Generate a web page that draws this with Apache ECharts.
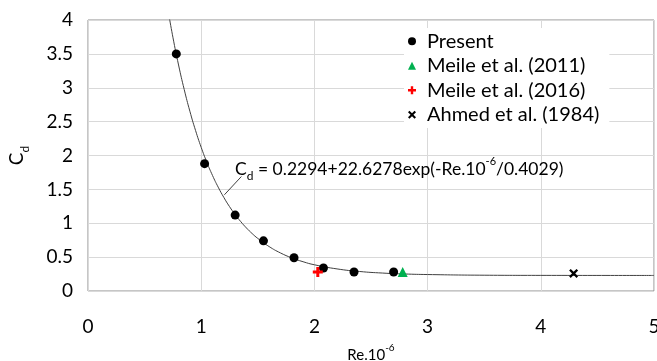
<!DOCTYPE html>
<html>
<head>
<meta charset="utf-8">
<script src="https://cdn.jsdelivr.net/npm/echarts@6/dist/echarts.min.js"></script>
<style>
  html, body { margin: 0; padding: 0; background: #fff; }
  #chart { width: 657px; height: 361px; }
</style>
</head>
<body>
<div id="chart"></div>
<script>
// Present (Re.10^-6, Cd)
const presentRe = [0.78, 1.03, 1.30, 1.55, 1.82, 2.08, 2.35, 2.70];
const presentCd = [3.50, 1.88, 1.12, 0.74, 0.49, 0.34, 0.28, 0.28];
const meile2011 = [[2.78, 0.28]];
const meile2016 = [[2.03, 0.28]];
const ahmed1984 = [[4.29, 0.26]];
// fitted curve as drawn
const fitRe = [0.70, 0.75, 0.80, 0.85, 0.90, 0.95, 1.00, 1.05, 1.10, 1.15, 1.20, 1.25, 1.30, 1.35,
  1.40, 1.45, 1.50, 1.60, 1.70, 1.80, 1.90, 2.00, 2.20, 2.40, 2.60, 2.80, 3.00, 3.50, 4.00, 5.00];
const fitCd = [4.212, 3.746, 3.336, 2.974, 2.653, 2.370, 2.120, 1.900, 1.705, 1.533, 1.381, 1.246, 1.128, 1.023,
  0.930, 0.848, 0.776, 0.656, 0.562, 0.489, 0.432, 0.387, 0.326, 0.288, 0.265, 0.251, 0.243, 0.233, 0.2305, 0.2295];
const xTicks = [0, 1, 2, 3, 4, 5];
const yTicks = [0, 0.5, 1, 1.5, 2, 2.5, 3, 3.5, 4];

const font = "Lato, 'Open Sans', sans-serif";
const plusPath = "path://M3.5,0H6.5V3.5H10V6.5H6.5V10H3.5V6.5H0V3.5H3.5Z";
const crossPath = "path://M1.8,0L5,3.2L8.2,0L10,1.8L6.8,5L10,8.2L8.2,10L5,6.8L1.8,10L0,8.2L3.2,5L0,1.8Z";

const chart = echarts.init(document.getElementById("chart"));
const option = {
  backgroundColor: "#fff",
  animation: false,
  textStyle: { fontFamily: font },
  grid: {
    left: 88, right: 3, top: 20, bottom: 70,
    containLabel: false, outerBoundsMode: "none",
    show: true, borderColor: "#8c8c8c", borderWidth: 1,
  },
  legend: {
    orient: "vertical",
    left: 404,
    top: 28,
    itemGap: 4,
    itemWidth: 8,
    itemHeight: 8,
    backgroundColor: "#fff",
    padding: [3, 10, 3, 4],
    textStyle: { fontFamily: font, fontSize: 20, lineHeight: 20.5, color: "#000", padding: [0, 0, 0, 6] },
    data: ["Present", "Meile et al. (2011)", "Meile et al. (2016)", "Ahmed et al. (1984)"],
  },
  xAxis: {
    type: "value",
    min: xTicks[0],
    max: xTicks[xTicks.length - 1],
    interval: 1,
    axisLine: { show: false },
    axisTick: { show: false },
    splitLine: { lineStyle: { color: "#d9d9d9" } },
    axisLabel: { fontSize: 19, color: "#000", margin: 26, fontFamily: font },
    name: "{a|Re.10}{p|-6}",
    nameLocation: "middle",
    nameGap: 52,
    nameTextStyle: {
      rich: {
        a: { fontSize: 15, color: "#000", fontFamily: font, lineHeight: 20, verticalAlign: "bottom" },
        p: { fontSize: 10, color: "#000", fontFamily: font, lineHeight: 20, verticalAlign: "top" },
      },
    },
  },
  yAxis: {
    type: "value",
    min: yTicks[0],
    max: yTicks[yTicks.length - 1],
    interval: 0.5,
    axisLine: { show: false },
    axisTick: { show: false },
    splitLine: { lineStyle: { color: "#d9d9d9" } },
    axisLabel: { fontSize: 19, color: "#000", margin: 15, fontFamily: font },
    name: "{a|C}{s|d}",
    nameLocation: "middle",
    nameGap: 57,
    nameTextStyle: {
      rich: {
        a: { fontSize: 19, color: "#000", fontFamily: font, lineHeight: 24, verticalAlign: "top" },
        s: { fontSize: 12, color: "#000", fontFamily: font, lineHeight: 24, verticalAlign: "bottom" },
      },
    },
  },
  series: [
    {
      name: "fit",
      type: "line",
      data: fitRe.map((x, i) => [x, fitCd[i]]),
      smooth: true,
      showSymbol: false,
      clip: true,
      silent: true,
      lineStyle: { color: "#404040", width: 1 },
      z: 2,
      markLine: {
        silent: true,
        symbol: ["none", "arrow"],
        symbolSize: [0, 11],
        lineStyle: { color: "#404040", width: 1, type: "solid" },
        label: { show: false },
        data: [[{ coord: [1.355, 1.69] }, { coord: [1.205, 1.42] }]],
      },
      markPoint: {
        silent: true,
        symbol: "circle",
        symbolSize: 1,
        itemStyle: { color: "rgba(0,0,0,0)" },
        data: [{ coord: [1.295, 1.80] }],
        label: {
          show: true,
          position: "right",
          distance: 0,
          formatter: "{a|C}{s|d}{a| = 0.2294+22.6278exp(-Re.10}{p|-6}{a|/0.4029)}",
          rich: {
            a: { fontSize: 17.5, color: "#000", fontFamily: font, lineHeight: 26 },
            s: { fontSize: 12, color: "#000", fontFamily: font, lineHeight: 26, verticalAlign: "bottom" },
            p: { fontSize: 11, color: "#000", fontFamily: font, lineHeight: 26, verticalAlign: "top" },
          },
        },
      },
    },
    {
      name: "Present",
      type: "scatter",
      data: presentRe.map((x, i) => [x, presentCd[i]]),
      symbol: "circle",
      symbolSize: 9,
      itemStyle: { color: "#000", opacity: 1 },
      z: 3,
    },
    {
      name: "Meile et al. (2011)",
      type: "scatter",
      data: meile2011,
      symbol: "triangle",
      symbolSize: 10,
      itemStyle: { color: "#00b050", opacity: 1 },
      z: 3,
    },
    {
      name: "Meile et al. (2016)",
      type: "scatter",
      data: meile2016,
      symbol: plusPath,
      symbolSize: 10,
      itemStyle: { color: "#ff0000", opacity: 1 },
      z: 3,
    },
    {
      name: "Ahmed et al. (1984)",
      type: "scatter",
      data: ahmed1984,
      symbol: crossPath,
      symbolSize: 9,
      itemStyle: { color: "#000", opacity: 1 },
      z: 3,
    },
  ],
};
chart.setOption(option);
</script>
</body>
</html>
